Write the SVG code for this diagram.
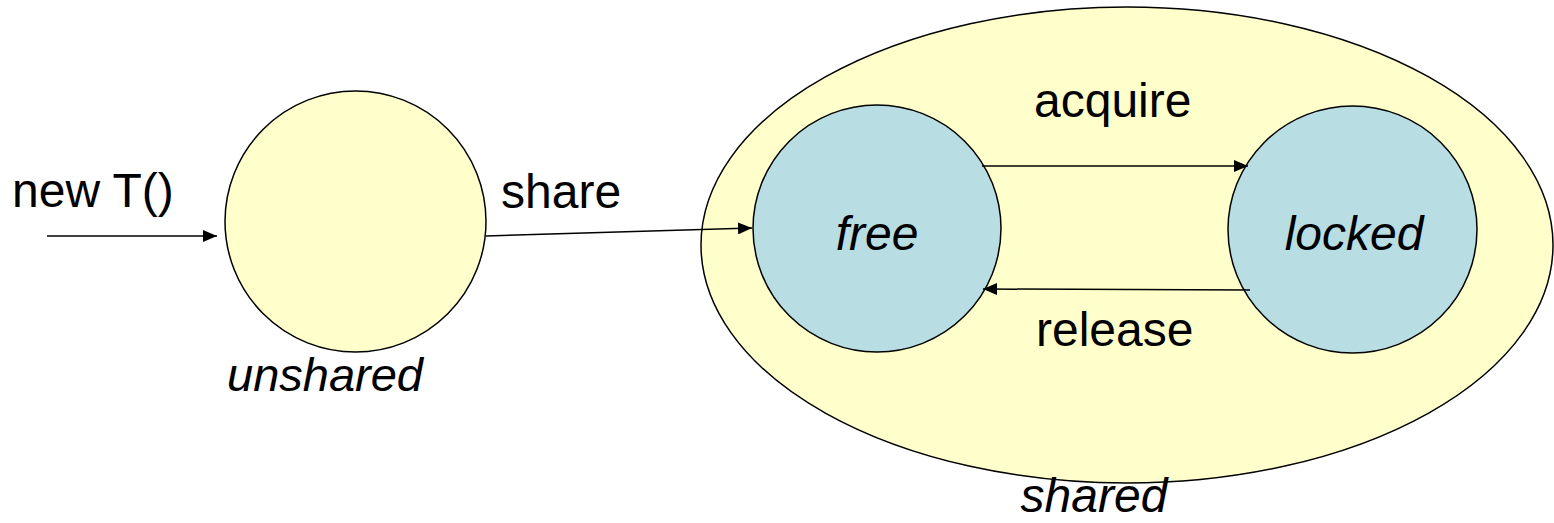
<svg xmlns="http://www.w3.org/2000/svg" width="1554" height="523" viewBox="0 0 1554 523">
<style>
text{font-family:"Liberation Sans",Arial,sans-serif;font-size:48px;fill:#000}
.it{font-style:italic}
.y{fill:#FFFFCC;stroke:#000;stroke-width:1.5}
.b{fill:#B8DEE4;stroke:#000;stroke-width:1.5}
.c{stroke:#000;stroke-width:1.5;fill:none;marker-end:url(#ah)}
</style>
<defs>
<marker id="ah" viewBox="0 0 14 12" refX="14" refY="6" markerWidth="14" markerHeight="12" markerUnits="userSpaceOnUse" orient="auto"><path d="M0,0 L14,6 L0,12 z" fill="#000"/></marker>
</defs>
<g id="shared">
<ellipse class="y" cx="1127" cy="245" rx="426" ry="238"/>
<text class="it" x="1094" y="512" text-anchor="middle">shared</text>
</g>
<g id="unshared">
<ellipse class="y" cx="355.5" cy="221.5" rx="130.5" ry="130.5"/>
<text class="it" x="325" y="391" text-anchor="middle" style="font-size:47px">unshared</text>
</g>
<g id="free">
<ellipse class="b" cx="877" cy="228.5" rx="124" ry="123.5"/>
<text class="it" x="877" y="250" text-anchor="middle">free</text>
</g>
<g id="locked">
<ellipse class="b" cx="1352.5" cy="229.5" rx="124.5" ry="123.5"/>
<text class="it" x="1354" y="250" text-anchor="middle">locked</text>
</g>
<g id="connectors">
<line x1="47" y1="236" x2="217" y2="236" class="c"/>
<line x1="486" y1="236" x2="752" y2="228" class="c"/>
<line x1="982" y1="166" x2="1248" y2="166" class="c"/>
<line x1="1250" y1="290" x2="983" y2="289" class="c"/>
<text x="12" y="207">new T()</text>
<text x="501" y="208">share</text>
<text x="1034" y="117">acquire</text>
<text x="1036" y="346">release</text>
</g>
</svg>
